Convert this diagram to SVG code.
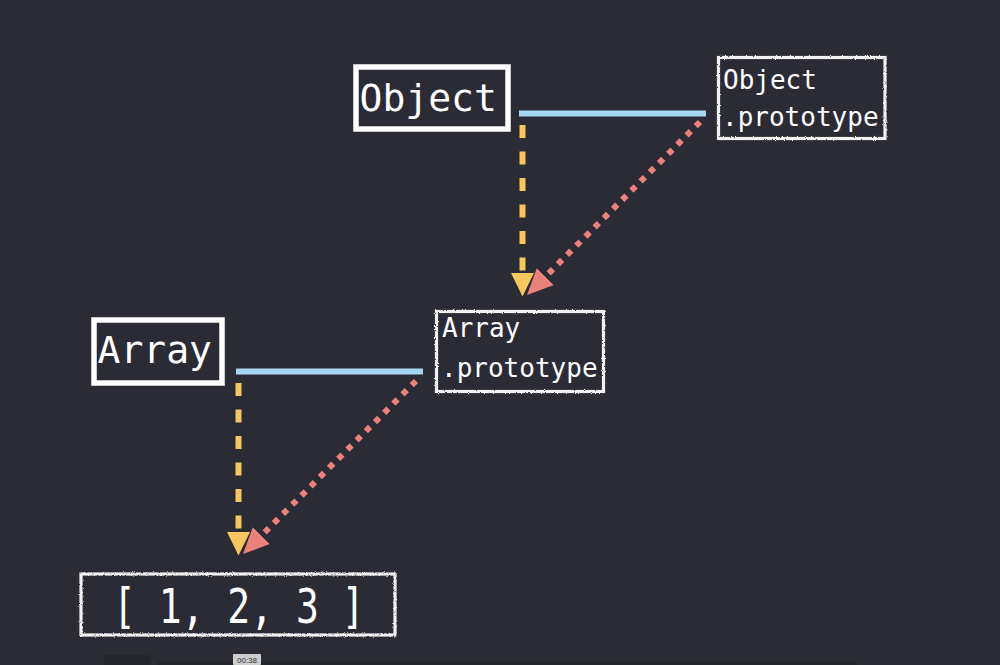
<svg xmlns="http://www.w3.org/2000/svg" width="1000" height="665" viewBox="0 0 1000 665">
  <style>
    .bg { fill: #2b2b35; }
    .box-solid { fill: none; stroke: #ffffff; stroke-width: 5.5; }
    .box-chalk { fill: none; stroke: #f2f2f2; stroke-width: 3.2; filter: url(#chalk); }
    .mono { font-family: "DejaVu Sans Mono", "Liberation Mono", monospace; fill: #ffffff; }
    .big { font-size: 38px; }
    .small { font-size: 26px; }
    .own { stroke: #a6d7f2; stroke-width: 6; fill: none; }
    .ctor { stroke: #f6c75f; stroke-width: 6; stroke-dasharray: 13 13.5; fill: none; }
    .proto { stroke: #ea817b; stroke-width: 6; stroke-dasharray: 6 7; fill: none; }
  </style>
  <defs>
    <filter id="chalk" x="-5%" y="-10%" width="110%" height="120%">
      <feTurbulence type="fractalNoise" baseFrequency="0.9" numOctaves="2" seed="4" result="noise"/>
      <feDisplacementMap in="SourceGraphic" in2="noise" scale="2.6" xChannelSelector="R" yChannelSelector="G"/>
    </filter>
    <marker id="head-yellow" markerUnits="userSpaceOnUse" markerWidth="24" markerHeight="24" viewBox="0 -12 24 24" refX="0" refY="0" orient="auto">
      <path d="M0,-11.5 L23.5,0 L0,11.5 Z" fill="#f6c75f"/>
    </marker>
    <marker id="head-red" markerUnits="userSpaceOnUse" markerWidth="27" markerHeight="26" viewBox="0 -13 27 26" refX="0" refY="0" orient="auto">
      <path d="M0,-12 L26,0 L0,12 Z" fill="#ea817b"/>
    </marker>
  </defs>

  <rect class="bg" x="0" y="0" width="1000" height="665"/>

  <!-- connectors -->
  <g id="connectors">
    <line class="own" x1="519" y1="113.5" x2="706" y2="113.5"/>
    <line class="own" x1="236" y1="371.5" x2="423" y2="371.5"/>
    <line class="ctor" x1="522.5" y1="125" x2="522.5" y2="273" marker-end="url(#head-yellow)"/>
    <line class="ctor" x1="238.5" y1="383" x2="238.5" y2="532" marker-end="url(#head-yellow)"/>
    <line class="proto" x1="700" y1="122" x2="545.4" y2="276.6" marker-end="url(#head-red)"/>
    <line class="proto" x1="416" y1="381" x2="261.4" y2="535.6" marker-end="url(#head-red)"/>
  </g>

  <g id="object">
    <rect class="box-solid" x="356" y="67" width="152" height="62"/>
    <text class="mono big" x="359.5" y="110.5">Object</text>
  </g>

  <g id="object-prototype">
    <rect class="box-chalk" x="718.5" y="57.5" width="166.5" height="81"/>
    <text class="mono small" x="723" y="89">Object</text>
    <text class="mono small" x="722" y="126">.prototype</text>
  </g>

  <g id="array">
    <rect class="box-solid" x="94" y="320" width="128" height="63"/>
    <text class="mono big" x="97.5" y="363">Array</text>
  </g>

  <g id="array-prototype">
    <rect class="box-chalk" x="436.5" y="311.5" width="167" height="80"/>
    <text class="mono small" x="442" y="337">Array</text>
    <text class="mono small" x="441" y="377">.prototype</text>
  </g>

  <g id="array-instance">
    <rect class="box-chalk" x="81" y="574" width="314" height="61"/>
    <text class="mono big" transform="translate(113 623) scale(1 1.25)" x="0" y="0">[ 1, 2, 3 ]</text>
  </g>

  <!-- player strip along the bottom edge -->
  <g id="player">
    <rect x="104" y="655" width="47" height="10" rx="2" fill="#24262c"/>
    <rect x="158" y="661" width="699" height="4" fill="#23272c"/>
    <rect x="233" y="654" width="28" height="11" rx="1" fill="#cdcdcd"/>
    <text x="247" y="663" font-family="Liberation Sans, sans-serif" font-size="8" fill="#333333" text-anchor="middle">00:38</text>
  </g>
</svg>
